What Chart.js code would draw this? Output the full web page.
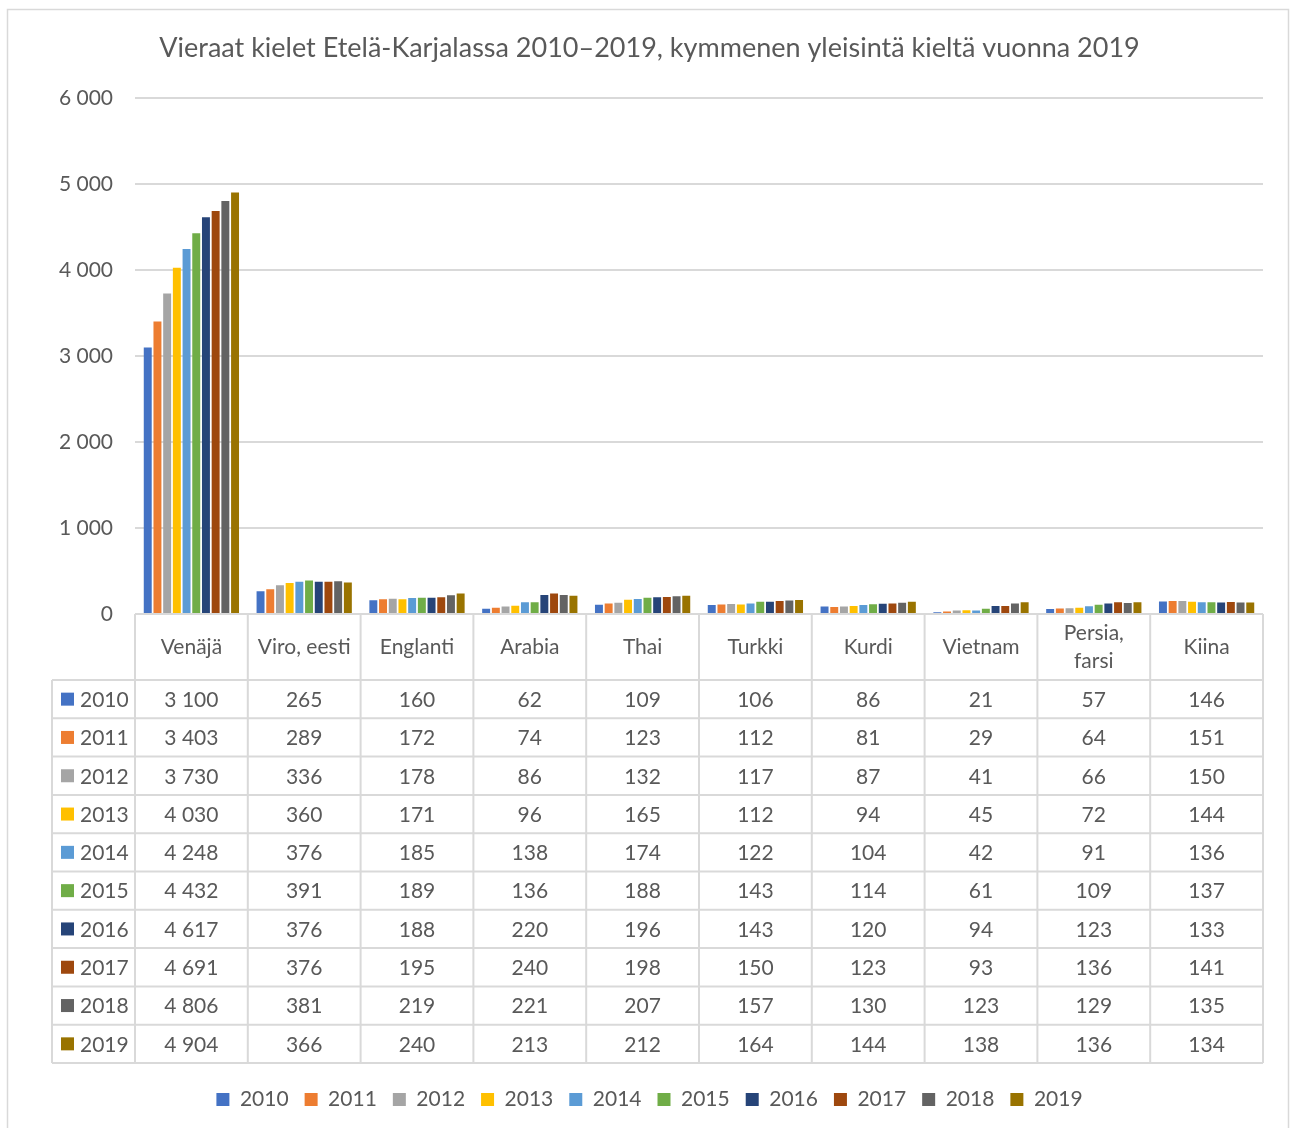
<!DOCTYPE html>
<html>
<head>
<meta charset="utf-8">
<script src="https://cdn.jsdelivr.net/npm/chart.js@4.4.1/dist/chart.umd.min.js"></script>
<style>
  html, body { margin: 0; padding: 0; background: #fff; }
  #wrap { width: 1291px; height: 1128px; }
</style>
</head>
<body>
<div id="wrap"><canvas id="chart" width="1291" height="1128"></canvas></div>
<script>
const languages = ['Venäjä', 'Viro, eesti', 'Englanti', 'Arabia', 'Thai', 'Turkki', 'Kurdi', 'Vietnam', ['Persia,', 'farsi'], 'Kiina'];
const years = ['2010', '2011', '2012', '2013', '2014', '2015', '2016', '2017', '2018', '2019'];
const colors = ['#4472C4', '#ED7D31', '#A5A5A5', '#FFC000', '#5B9BD5', '#70AD47', '#264478', '#9E480E', '#636363', '#997300'];

const v2010 = [3100, 265, 160, 62, 109, 106, 86, 21, 57, 146];
const v2011 = [3403, 289, 172, 74, 123, 112, 81, 29, 64, 151];
const v2012 = [3730, 336, 178, 86, 132, 117, 87, 41, 66, 150];
const v2013 = [4030, 360, 171, 96, 165, 112, 94, 45, 72, 144];
const v2014 = [4248, 376, 185, 138, 174, 122, 104, 42, 91, 136];
const v2015 = [4432, 391, 189, 136, 188, 143, 114, 61, 109, 137];
const v2016 = [4617, 376, 188, 220, 196, 143, 120, 94, 123, 133];
const v2017 = [4691, 376, 195, 240, 198, 150, 123, 93, 136, 141];
const v2018 = [4806, 381, 219, 221, 207, 157, 130, 123, 129, 135];
const v2019 = [4904, 366, 240, 213, 212, 164, 144, 138, 136, 134];
const series = [v2010, v2011, v2012, v2013, v2014, v2015, v2016, v2017, v2018, v2019];

const yMax = 6000;
const yStep = 1000;

const FONT = 'Lato, "Open Sans", sans-serif';
const TEXT = '#595959';
const LINE = '#d9d9d9';

const fmt = n => String(n).replace(/\B(?=(\d{3})+(?!\d))/g, ' ');

// data table under the plot, drawn against the x scale
const tablePlugin = {
  id: 'dataTable',
  beforeDraw(chart) {
    const ctx = chart.ctx;
    ctx.save();
    ctx.fillStyle = '#fff';
    ctx.fillRect(0, 0, chart.width, chart.height);
    ctx.strokeStyle = LINE;
    ctx.lineWidth = 1.5;
    ctx.strokeRect(7.5, 9.5, chart.width - 10, chart.height - 8);
    ctx.restore();
  },
  afterDraw(chart) {
    const { ctx, chartArea: a, scales: { x } } = chart;
    const n = languages.length;
    const catW = (a.right - a.left) / n;
    const edges = [];
    for (let i = 0; i < n; i++) edges.push(x.getPixelForValue(i) - catW / 2);
    edges.push(x.getPixelForValue(n - 1) + catW / 2);

    const headTop = a.bottom;
    const headBot = a.bottom + 66;
    const rowH = 38.3;
    const tableLeft = 52;
    const tableBot = headBot + rowH * years.length;

    ctx.save();
    ctx.strokeStyle = LINE;
    ctx.lineWidth = 2;
    ctx.beginPath();
    ctx.moveTo(edges[0], headTop);
    ctx.lineTo(edges[n], headTop);
    for (let r = 0; r <= years.length; r++) {
      const y = headBot + r * rowH;
      ctx.moveTo(tableLeft, y);
      ctx.lineTo(edges[n], y);
    }
    edges.forEach(ex => {
      ctx.moveTo(ex, headTop);
      ctx.lineTo(ex, tableBot);
    });
    ctx.moveTo(tableLeft, headBot);
    ctx.lineTo(tableLeft, tableBot);
    ctx.stroke();

    ctx.fillStyle = TEXT;
    ctx.font = '21px ' + FONT;
    ctx.textAlign = 'center';
    ctx.textBaseline = 'middle';
    // header labels
    languages.forEach((lab, i) => {
      const cx = x.getPixelForValue(i);
      const mid = (headTop + headBot) / 2;
      if (Array.isArray(lab)) {
        ctx.fillText(lab[0], cx, mid - 14);
        ctx.fillText(lab[1], cx, mid + 14);
      } else {
        ctx.fillText(lab, cx, mid);
      }
    });

    // one row per year
    years.forEach((yr, r) => {
      const cy = headBot + r * rowH + rowH / 2;
      ctx.fillStyle = colors[r];
      ctx.fillRect(61, cy - 6.5, 13, 13);
      ctx.fillStyle = TEXT;
      ctx.textAlign = 'left';
      ctx.fillText(yr, 80, cy + 1);
      ctx.textAlign = 'center';
      series[r].forEach((val, i) => {
        ctx.fillText(fmt(val), x.getPixelForValue(i), cy + 1);
      });
    });
    ctx.restore();
  }
};

const datasets = years.map((yr, i) => ({
  label: yr,
  data: series[i],
  backgroundColor: colors[i],
  borderWidth: 0,
  barPercentage: 0.82,
  categoryPercentage: 0.86
}));

new Chart(document.getElementById('chart'), {
  type: 'bar',
  data: {
    labels: languages,
    datasets: datasets
  },
  options: {
    responsive: false,
    animation: false,
    devicePixelRatio: 1,
    layout: { padding: { left: 36, right: 28, top: 8, bottom: 8 } },
    plugins: {
      title: {
        display: true,
        text: 'Vieraat kielet Etelä-Karjalassa 2010–2019, kymmenen yleisintä kieltä vuonna 2019',
        color: TEXT,
        font: { family: FONT, size: 27, weight: 'normal' },
        padding: { top: 24, bottom: 34 }
      },
      legend: {
        position: 'bottom',
        labels: {
          color: TEXT,
          font: { family: FONT, size: 21 },
          boxWidth: 13,
          boxHeight: 13,
          padding: 16
        }
      },
      tooltip: { enabled: false }
    },
    scales: {
      x: {
        ticks: { display: false },
        grid: { display: false },
        border: { display: false },
        afterFit(scale) { scale.height = 459; }
      },
      y: {
        min: 0,
        max: yMax,
        ticks: {
          stepSize: yStep,
          color: TEXT,
          font: { family: FONT, size: 21 },
          padding: 22,
          callback: v => fmt(v)
        },
        grid: { color: LINE, lineWidth: 2, drawTicks: false },
        border: { display: false },
        afterFit(scale) { scale.width = 99; }
      }
    }
  },
  plugins: [tablePlugin]
});
</script>
</body>
</html>
